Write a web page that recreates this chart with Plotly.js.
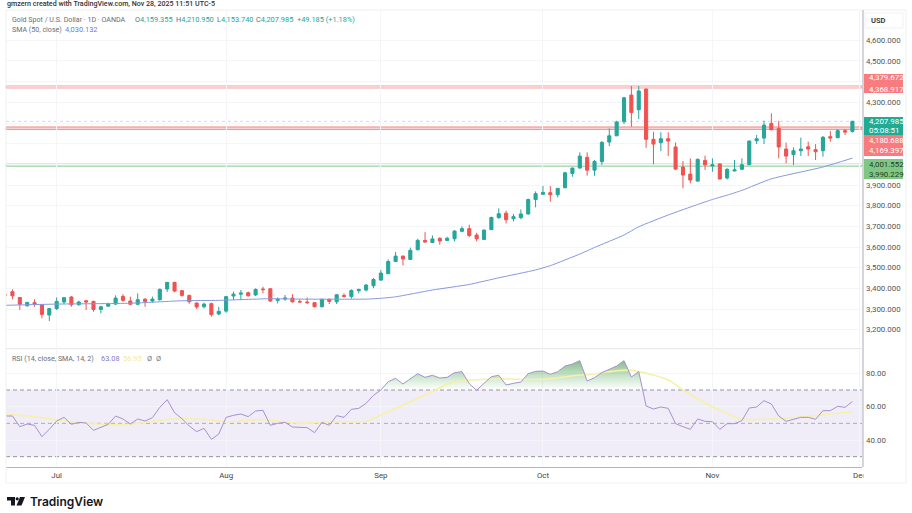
<!DOCTYPE html>
<html>
<head>
<meta charset="utf-8">
<script src="https://cdn.plot.ly/plotly-3.0.1.min.js"></script>
<style>html,body{margin:0;padding:0;background:#fff}</style>
</head>
<body>
<div id="chart" style="width:912px;height:513px"></div>
<script>
const dates = [
"2025-06-20","2025-06-23","2025-06-24","2025-06-25","2025-06-26","2025-06-27","2025-06-30",
"2025-07-01","2025-07-02","2025-07-03","2025-07-04","2025-07-07","2025-07-08","2025-07-09","2025-07-10","2025-07-11","2025-07-14","2025-07-15","2025-07-16","2025-07-17","2025-07-18","2025-07-21","2025-07-22","2025-07-23","2025-07-24","2025-07-25","2025-07-28","2025-07-29","2025-07-30","2025-07-31",
"2025-08-01","2025-08-04","2025-08-05","2025-08-06","2025-08-07","2025-08-08","2025-08-11","2025-08-12","2025-08-13","2025-08-14","2025-08-15","2025-08-18","2025-08-19","2025-08-20","2025-08-21","2025-08-22","2025-08-25","2025-08-26","2025-08-27","2025-08-28","2025-08-29",
"2025-09-01","2025-09-02","2025-09-03","2025-09-04","2025-09-05","2025-09-08","2025-09-09","2025-09-10","2025-09-11","2025-09-12","2025-09-15","2025-09-16","2025-09-17","2025-09-18","2025-09-19","2025-09-22","2025-09-23","2025-09-24","2025-09-25","2025-09-26","2025-09-29","2025-09-30",
"2025-10-01","2025-10-02","2025-10-03","2025-10-06","2025-10-07","2025-10-08","2025-10-09","2025-10-10","2025-10-13","2025-10-14","2025-10-15","2025-10-16","2025-10-17","2025-10-20","2025-10-21","2025-10-22","2025-10-23","2025-10-24","2025-10-27","2025-10-28","2025-10-29","2025-10-30","2025-10-31",
"2025-11-03","2025-11-04","2025-11-05","2025-11-06","2025-11-07","2025-11-10","2025-11-11","2025-11-12","2025-11-13","2025-11-14","2025-11-17","2025-11-18","2025-11-19","2025-11-20","2025-11-21","2025-11-24","2025-11-25","2025-11-26","2025-11-27","2025-11-28"];

const opens = [3370,3384,3356,3316,3331,3321,3271,
3302,3334,3358,3321,3340,3337,3298,3314,3324,3361,3339,3323,3348,3339,3345,3397,3429,3389,3366,3329,3311,3326,3276,
3290,3363,3372,3379,3368,3397,3398,3342,3348,3353,3336,3334,3331,3311,3347,3335,3366,3361,3389,3392,3413,
3440,3471,3530,3556,3540,3587,3632,3622,3642,3632,3640,3676,3689,3658,3637,3684,3742,3764,3737,3742,3760,3830,
3855,3863,3853,3887,3956,3982,4034,3972,4013,4108,4138,4206,4335,4264,4364,4121,4105,4124,4084,3987,3953,3919,4019,
3992,4002,3934,3968,3976,3998,4114,4127,4198,4174,4074,4047,4066,4085,4071,4066,4134,4129,4163,4159.355];

const highs = [3376,3395,3358,3335,3347,3323,3306,
3356,3358,3363,3340,3343,3340,3316,3331,3366,3372,3360,3376,3352,3360,3400,3431,3432,3393,3369,3332,3331,3331,3311,
3363,3384,3392,3384,3400,3408,3400,3356,3368,3372,3348,3356,3334,3350,3350,3372,3376,3395,3398,3421,3450,
3489,3540,3576,3559,3597,3640,3672,3656,3647,3650,3682,3700,3708,3669,3685,3747,3787,3776,3760,3782,3834,3869,
3895,3895,3885,3964,3985,4058,4058,4021,4113,4174,4211,4327,4379,4379,4367,4158,4155,4155,4106,4016,4029,4029,4042,
4029,4005,3981,4021,4029,4114,4142,4211,4247,4211,4105,4082,4129,4110,4098,4137,4161,4169,4171,4210.95];

const lows = [3360,3347,3295,3311,3311,3255,3242,
3295,3324,3311,3316,3295,3287,3279,3311,3319,3335,3319,3318,3311,3331,3340,3382,3381,3360,3326,3300,3303,3263,3271,
3282,3343,3343,3360,3363,3376,3334,3327,3340,3331,3332,3324,3308,3308,3324,3324,3356,3350,3376,3385,3401,
3437,3469,3527,3511,3537,3584,3621,3619,3611,3629,3627,3672,3647,3627,3634,3682,3737,3714,3724,3734,3756,3792,
3853,3819,3840,3884,3940,3980,3945,3945,3997,4088,4137,4195,4182,4219,4080,4000,4064,4040,3972,3884,3908,3916,3973,
3964,3927,3927,3966,3973,3997,4098,4098,4163,4029,4005,3997,4040,4040,4021,4037,4110,4126,4142,4153.74];

const closes = [3367,3364,3323,3332,3323,3274,3302,
3337,3355,3321,3334,3334,3298,3311,3324,3353,3342,3323,3345,3337,3348,3395,3429,3387,3366,3335,3310,3324,3273,3289,
3360,3372,3377,3364,3395,3394,3339,3347,3353,3335,3334,3331,3311,3347,3337,3369,3361,3390,3395,3416,3443,
3474,3530,3556,3542,3584,3632,3624,3639,3629,3642,3677,3689,3656,3640,3682,3743,3761,3732,3747,3760,3830,3858,
3864,3853,3884,3959,3982,4040,3972,4014,4106,4138,4205,4322,4251,4355,4121,4098,4124,4113,3977,3948,3924,4024,3998,
3998,3929,3976,3973,3998,4113,4124,4190,4168,4084,4040,4066,4074,4074,4061,4131,4127,4163,4156,4207.985];

const rsiValues = [54.4,54.4,48,49.6,48.8,42,46.4,
51.4,53.6,49.4,50.6,50.2,45.8,47.4,49.4,54.4,52.6,49.6,52.6,51.4,53.4,59.6,64.2,56.4,52.8,48.4,45,47,40.4,43.6,
53.6,54.8,55.6,54,57.4,57.8,48.8,50,50.6,47.8,47.6,47.4,44.4,50.6,48.8,54.6,53.6,58.4,59,62,66.8,
70,75,77,73.6,76.6,79.8,77.6,78.8,77.2,77.6,80.4,81,73.8,69.8,74,78,78.8,73,74,74.8,79.8,81.2,
81.4,79.4,81,84.4,85.6,87.6,75.4,77.4,80.4,82.4,84.4,87.6,77.8,81,60.4,58.6,59.8,59,49.8,48,46.4,52.6,51.2,
51,46.4,49.8,49.8,51.6,59.2,59.8,63.6,61.6,54.4,51.2,52.6,53.6,53.6,52.4,57.6,57.6,60.2,59.6,63.08];

const smaDates = ["2025-06-20","2025-07-01","2025-07-15","2025-07-24","2025-07-31","2025-08-11","2025-08-15","2025-08-28","2025-09-01","2025-09-03","2025-09-10","2025-09-17","2025-09-23","2025-09-30","2025-10-02","2025-10-08","2025-10-10","2025-10-16","2025-10-20","2025-10-24","2025-10-30","2025-11-03","2025-11-05","2025-11-07","2025-11-13","2025-11-24","2025-11-28"];
const smaValues = [3318,3324,3328,3340,3342,3350,3348,3348,3352,3359,3392,3419,3451,3489,3510,3566,3598,3658,3698,3755,3806,3830,3851,3874,3930,3987,4030.132];

const rsiMaDates = ["2025-06-20","2025-06-26","2025-07-01","2025-07-09","2025-07-15","2025-07-22","2025-07-29","2025-08-01","2025-08-08","2025-08-15","2025-08-21","2025-08-28","2025-09-01","2025-09-04","2025-09-10","2025-09-12","2025-09-16","2025-09-23","2025-10-01","2025-10-08","2025-10-10","2025-10-13","2025-10-17","2025-10-24","2025-10-28","2025-11-03","2025-11-07","2025-11-12","2025-11-19","2025-11-21","2025-11-25","2025-11-28"];
const rsiMaValues = [55.4,54,52,49.4,49.4,52.4,52.4,51,52.2,50,51,51.2,55,61,69,73.4,75.5,76.6,76.4,79,79.4,80.4,81.8,76,70,60,52.6,52.4,53.8,54.6,55.6,56.95];

const priceTicks = [3200,3300,3400,3500,3600,3700,3800,3900,4000,4100,4200,4300,4400,4500,4600];
const priceLabels = ["3,200.000","3,300.000","3,400.000","3,500.000","3,600.000","3,700.000","3,800.000","3,900.000","","","","4,300.000","","4,500.000","4,600.000"];
const rsiTicks = [40,60,80];
const rsiLabels = ["40.00","60.00","80.00"];
const monthTicks = ["2025-07-01","2025-08-01","2025-09-01","2025-10-01","2025-11-03","2025-12-01"];
const monthLabels = ["Jul","Aug","Sep","Oct","Nov","Dec"];

const resistanceUpper = [4368.917,4379.672];
const resistanceLower = [4169.397,4180.688];
const supportBand = [3990.229,4001.552];
const lastClose = 4207.985;

/* ---- layout helpers (pixels of the 912x513 frame to paper fractions) ---- */
const L=6,R=862,T=10,B=467;
const px=x=>(x-L)/(R-L), py=y=>(B-y)/(B-T);
const UI='Roboto, "Open Sans", sans-serif';
const text=(x,y,t,color,size,extra)=>Object.assign({xref:'paper',yref:'paper',x:px(x),y:py(y),text:t,
  showarrow:false,xanchor:'left',yanchor:'middle',borderpad:0,
  font:{family:UI,size:size||7.2,color:color}},extra||{});
const box=(x0,y0,x1,y1,fill,line,extra)=>Object.assign({type:'rect',xref:'paper',yref:'paper',x0:px(x0),x1:px(x1),y0:py(y0),y1:py(y1),
  fillcolor:fill,line:{width:line?1:0,color:line||'rgba(0,0,0,0)'},layer:'above'},extra||{});
const poly=(pts,fill)=>({type:'path',xref:'paper',yref:'paper',layer:'above',fillcolor:fill,line:{width:0},
  path:'M'+pts.map(p=>px(p[0])+','+py(p[1])).join(' L')+' Z'});
const band=(vals,fill,line)=>({type:'rect',xref:'paper',yref:'y',x0:0,x1:1,y0:vals[0],y1:vals[1],
  fillcolor:fill,line:{width:1,color:line},layer:'below'});
const level=(v,yref,color,dash)=>({type:'line',xref:'paper',yref:yref,x0:0,x1:1,y0:v,y1:v,
  line:{width:1,color:color,dash:dash},layer:'below'});

/* overbought area: RSI clipped at the 70 level, with the crossing instants added */
const obX=[],obY=[];
dates.forEach((d,i)=>{
  if(i>0){
    const a=rsiValues[i-1],b=rsiValues[i];
    if((a-70)*(b-70)<0){
      const t0=Date.parse(dates[i-1]),t1=Date.parse(d);
      obX.push(new Date(t0+(t1-t0)*(70-a)/(b-a)).toISOString());
      obY.push(70);
    }
  }
  obX.push(d);obY.push(Math.max(rsiValues[i],70));
});

const traces=[
 {type:'scatter',x:obX,y:obX.map(()=>70),yaxis:'y2',mode:'lines',line:{width:0},hoverinfo:'skip',showlegend:false},
 {type:'scatter',x:obX,y:obY,yaxis:'y2',mode:'lines',line:{width:0},fill:'tonexty',hoverinfo:'skip',showlegend:false,
  fillgradient:{type:'vertical',start:70,stop:88,colorscale:[[0,'rgba(76,175,80,0)'],[1,'rgba(56,142,60,0.62)']]}},
 {type:'scatter',x:rsiMaDates,y:rsiMaValues,yaxis:'y2',mode:'lines',line:{color:'#f7f0a8',width:1.6,shape:'spline',smoothing:0.7},showlegend:false},
 {type:'scatter',x:dates,y:rsiValues,yaxis:'y2',mode:'lines',line:{color:'#a492cf',width:1},showlegend:false},
 {type:'scatter',x:smaDates,y:smaValues,yaxis:'y',mode:'lines',line:{color:'#8599df',width:1,shape:'spline',smoothing:0.5},showlegend:false},
 {type:'candlestick',x:dates,open:opens,high:highs,low:lows,close:closes,yaxis:'y',showlegend:false,whiskerwidth:0,
  increasing:{line:{color:'#26a69a',width:1},fillcolor:'#26a69a'},
  decreasing:{line:{color:'#ef5350',width:1},fillcolor:'#ef5350'}}
];

const GRID='#f3f5f9';
const layout={
 width:912,height:513,margin:{l:L,r:912-R,t:T,b:513-B,pad:0},paper_bgcolor:'#fff',plot_bgcolor:'#fff',
 showlegend:false,hovermode:false,boxgap:0.4,
 font:{family:UI,size:7.9,color:'#555'},
 xaxis:{type:'date',range:['2025-06-20 03:00','2025-12-01 07:12'],rangeslider:{visible:false},
  rangebreaks:[{bounds:['sat','mon']}],anchor:'y2',
  tickmode:'array',tickvals:monthTicks,ticktext:monthLabels,ticklen:0,ticklabelstandoff:1,
  showgrid:true,gridcolor:GRID,gridwidth:1,showline:true,linecolor:'#b4b6bc',linewidth:1,zeroline:false,
  tickfont:{family:UI,size:7.9,color:'#444'}},
 yaxis:{domain:[py(348),1],range:[3111.5,4746.7],side:'right',anchor:'x',
  tickmode:'array',tickvals:priceTicks,ticktext:priceLabels,ticklen:0,ticklabelstandoff:3,
  showgrid:true,gridcolor:GRID,gridwidth:1,zeroline:false,showline:false,
  tickfont:{family:UI,size:7.9,color:'#555'}},
 yaxis2:{domain:[0,py(350)],range:[23.8,94],side:'right',anchor:'x',
  tickmode:'array',tickvals:rsiTicks,ticktext:rsiLabels,ticklen:0,ticklabelstandoff:3,
  showgrid:true,gridcolor:GRID,gridwidth:1,zeroline:false,showline:false,
  tickfont:{family:UI,size:7.9,color:'#555'}},
 shapes:[
  {type:'rect',xref:'paper',yref:'y2',x0:0,x1:1,y0:30,y1:70,fillcolor:'rgba(126,87,194,0.11)',line:{width:0},layer:'below'},
  level(70,'y2','#94949c','4px,3px'),level(50,'y2','#acacb4','4px,3px'),level(30,'y2','#94949c','4px,3px'),
  band(resistanceUpper,'rgba(239,83,80,0.12)','rgba(239,83,80,0.45)'),
  band(resistanceLower,'rgba(239,83,80,0.16)','rgba(239,83,80,0.7)'),
  band(supportBand,'rgba(76,175,80,0.2)','rgba(76,175,80,0.45)'),
  level(lastClose,'y','rgba(38,166,154,0.3)','dot'),
  box(6,10,906,483,'rgba(0,0,0,0)','#eef0f3'),
  box(6,348,862,349.2,'#e9eaee',null),
  box(863.5,468,905,482,'#fff',null),
  {type:'line',xref:'paper',yref:'paper',x0:px(863),x1:px(863),y0:py(10),y1:py(467),layer:'above',line:{width:1.4,color:'#c2c4ca'}},
  box(865,13,903,28,'#fff','#f0f1f4'),
  box(864,74,903,93,'#f77c80',null),
  box(864,117,903,135,'#22ab94',null),
  box(864,135,903,156,'#f77c80',null),
  box(864,159,903,179,'#81c784',null),
  poly([[7,497],[15,497],[15,505.5],[11,505.5],[11,500.5],[7,500.5]],'#131722'),
  poly([[20,497],[25,497],[21.5,505.5],[16.5,505.5]],'#131722'),
  {type:'circle',xref:'paper',yref:'paper',layer:'above',fillcolor:'#131722',line:{width:0},x0:px(15.6),x1:px(18.8),y0:py(497.2),y1:py(500.4)}
 ],
 annotations:[
  text(6,3.5,'gmzern created with TradingView.com, Nov 28, 2025 11:51 UTC-5','#333',7.1,{font:{family:UI,size:7.1,color:'#333',weight:500}}),
  text(11,19,'Gold Spot / U.S. Dollar · 1D · OANDA','#6a6d78',7.1),
  text(134,19,'O<span style="color:#26a69a">4,159.355</span>','#6a6d78',7.4),
  text(175,19,'H<span style="color:#26a69a">4,210.950</span>','#6a6d78',7.4),
  text(216,19,'L<span style="color:#26a69a">4,153.740</span>','#6a6d78',7.4),
  text(255,19,'C<span style="color:#26a69a">4,207.985</span>','#6a6d78',7.4),
  text(296,19,'+49.185 (+1.18%)','#26a69a',7.4),
  text(11,29,'SMA (50, close)','#6a6d78',7.1),
  text(64,29,'4,030.132','#5f7fdc',7.4),
  text(11,358,'RSI (14, close, SMA, 14, 2)','#6a6d78',7.1),
  text(100,358,'63.08','#8f78c8',7.4),
  text(122,358,'56.95','#f3e9a0',7.4),
  text(146,358,'Ø','#7a7d86',7.4),
  text(155,358,'Ø','#7a7d86',7.4),
  text(870,20.5,'USD','#333',7.6,{font:{family:UI,size:7.6,color:'#333',weight:600}}),
  text(868,78,'4,379.672','#fff',7.9),
  text(868,89,'4,368.917','#fff',7.9),
  text(868,121.5,'4,207.985','#fff',7.9),
  text(868,130.5,'05:08:51','#fff',7.9),
  text(868,140,'4,180.688','#fff',7.9),
  text(868,150.5,'4,169.397','#fff',7.9),
  text(868,164,'4,001.552','#1f3d22',7.9),
  text(868,174,'3,990.229','#1f3d22',7.9),
  text(29,501,'TradingView','#131722',12,{font:{family:'Inter, Roboto, sans-serif',size:12,color:'#131722',weight:600}})
 ]
};
Plotly.newPlot('chart',traces,layout,{staticPlot:true,displayModeBar:false});
</script>
</body>
</html>
